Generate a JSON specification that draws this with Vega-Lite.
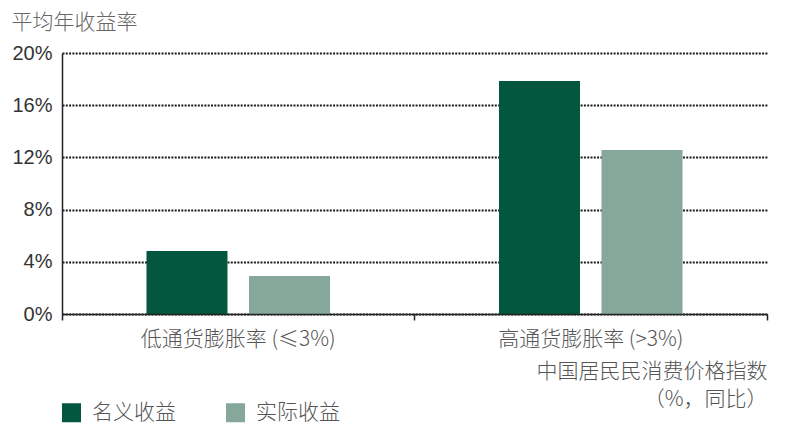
{
  "$schema": "https://vega.github.io/schema/vega-lite/v6.json",
  "width": 705,
  "height": 261,
  "autosize": {"type": "none"},
  "padding": {"left": 62, "top": 53, "right": 31, "bottom": 121},
  "background": "white",
  "data": {
    "values": [
      {"组": "低通货膨胀率 (≤3%)", "类型": "名义收益", "收益率": 4.83},
      {"组": "低通货膨胀率 (≤3%)", "类型": "实际收益", "收益率": 2.91},
      {"组": "高通货膨胀率 (>3%)", "类型": "名义收益", "收益率": 17.85},
      {"组": "高通货膨胀率 (>3%)", "类型": "实际收益", "收益率": 12.57}
    ]
  },
  "mark": {"type": "bar"},
  "encoding": {
    "x": {
      "field": "组",
      "type": "nominal",
      "sort": ["低通货膨胀率 (≤3%)", "高通货膨胀率 (>3%)"],
      "scale": {"paddingInner": 0, "paddingOuter": 0},
      "axis": {
        "title": ["中国居民民消费价格指数", "（%，同比）"],
        "titleAnchor": "end",
        "titleAlign": "right",
        "titleBaseline": "top",
        "titleX": 705,
        "titleY": 46,
        "titleLineHeight": 28,
        "titleFont": "Noto Sans CJK SC",
        "titleFontSize": 21,
        "titleFontWeight": 300,
        "titleColor": "#555555",
        "labelAngle": 0,
        "labelFont": "Noto Sans CJK SC",
        "labelFontSize": 21,
        "labelFontWeight": 300,
        "labelColor": "#555555",
        "labelPadding": 8,
        "labelLimit": 0,
        "bandPosition": 1,
        "tickExtra": true,
        "ticks": true,
        "tickSize": 6,
        "tickColor": "#222222",
        "tickWidth": 1.5,
        "domainColor": "#222222",
        "domainWidth": 1.5,
        "grid": false,
        "zindex": 1
      }
    },
    "xOffset": {
      "field": "类型",
      "type": "nominal",
      "sort": ["名义收益", "实际收益"],
      "scale": {"paddingInner": 0.21, "paddingOuter": 0.824}
    },
    "y": {
      "field": "收益率",
      "type": "quantitative",
      "scale": {"domain": [0, 20], "nice": false},
      "axis": {
        "values": [0, 4, 8, 12, 16, 20],
        "labelExpr": "datum.value + '%'",
        "title": "平均年收益率",
        "titleAngle": 0,
        "titleAlign": "left",
        "titleBaseline": "top",
        "titleX": -51,
        "titleY": -42,
        "titleFont": "Noto Sans CJK SC",
        "titleFontSize": 21,
        "titleFontWeight": 300,
        "titleColor": "#666666",
        "labelFont": "Liberation Sans",
        "labelFontSize": 20,
        "labelColor": "#333333",
        "labelPadding": 10,
        "ticks": false,
        "tickSize": 0,
        "domainColor": "#222222",
        "domainWidth": 1.5,
        "grid": true,
        "gridColor": "#1a1a1a",
        "gridWidth": 2,
        "gridDash": [2, 1.3]
      }
    },
    "color": {
      "field": "类型",
      "type": "nominal",
      "sort": ["名义收益", "实际收益"],
      "scale": {"domain": ["名义收益", "实际收益"], "range": ["#02573e", "#85a89a"]},
      "legend": {
        "title": null,
        "orient": "none",
        "direction": "horizontal",
        "legendX": -1,
        "legendY": 349,
        "padding": 0,
        "symbolType": "square",
        "symbolSize": 361,
        "symbolStrokeWidth": 0,
        "symbolOpacity": 1,
        "labelFont": "Noto Sans CJK SC",
        "labelFontSize": 21,
        "labelFontWeight": 300,
        "labelColor": "#555555",
        "labelOffset": 10,
        "columnPadding": 49
      }
    }
  },
  "config": {
    "view": {"stroke": null}
  }
}
